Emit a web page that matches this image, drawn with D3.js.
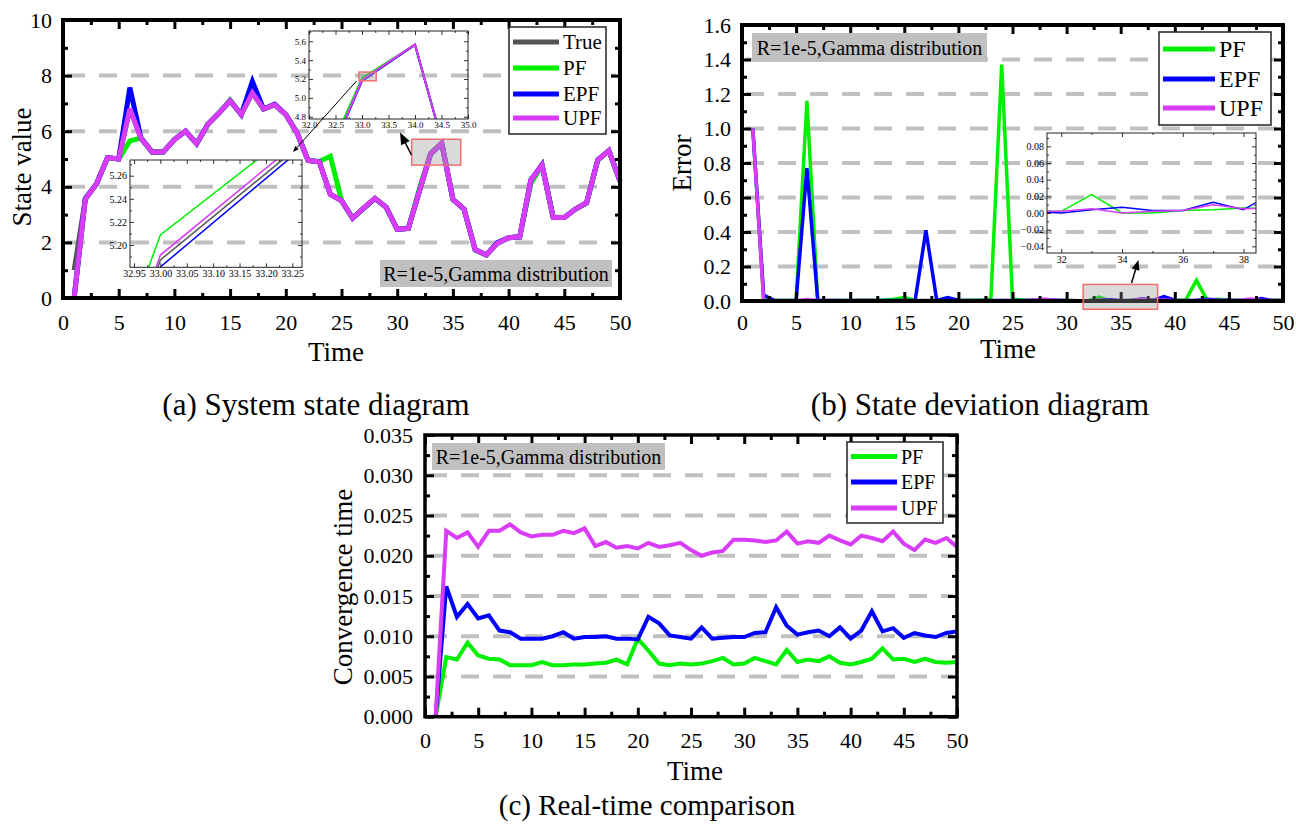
<!DOCTYPE html>
<html>
<head>
<meta charset="utf-8">
<script src="https://cdn.jsdelivr.net/npm/d3@7"></script>
<style>
  body { margin: 0; background: #fff; }
  svg text { font-family: "Liberation Serif", "Times New Roman", serif; fill: #000; }
</style>
</head>
<body>
<svg id="chart" width="1296" height="827"></svg>
<script>
// ---- data ----
const times = d3.range(1, 51);

// (a) state values
const trueState = [1.0, 3.55, 4.1, 5.05, 5.0, 6.8, 5.75, 5.25, 5.25, 5.7, 6.0, 5.55, 6.25, 6.65, 7.1, 6.6, 7.38, 6.8, 6.95, 6.6, 5.95, 4.95, 4.9, 3.73, 3.5, 2.87, 3.23, 3.58, 3.27, 2.47, 2.5, 3.86, 5.187, 5.562, 3.55, 3.2, 1.73, 1.55, 1.97, 2.17, 2.2, 4.24, 4.78, 2.9, 2.9, 3.2, 3.42, 4.96, 5.3, 4.2];
const pfState = [0, 3.56, 4.1, 5.05, 5.0, 5.65, 5.75, 5.25, 5.25, 5.7, 6.0, 5.55, 6.25, 6.65, 7.12, 6.6, 7.38, 6.8, 6.95, 6.6, 5.95, 4.95, 4.91, 5.1, 3.51, 2.87, 3.23, 3.58, 3.27, 2.47, 2.5, 3.95, 5.2087, 5.564, 3.55, 3.2, 1.73, 1.55, 1.97, 2.17, 2.2, 4.12, 4.78, 2.91, 2.9, 3.2, 3.42, 4.96, 5.3, 4.2];
const epfState = [0, 3.58, 4.1, 5.05, 5.0, 7.57, 5.75, 5.25, 5.25, 5.7, 6.0, 5.55, 6.25, 6.65, 7.1, 6.6, 7.79, 6.8, 6.97, 6.6, 5.95, 4.95, 4.9, 3.73, 3.5, 2.87, 3.23, 3.58, 3.27, 2.47, 2.5, 3.86, 5.181, 5.564, 3.55, 3.2, 1.74, 1.55, 1.99, 2.17, 2.2, 4.24, 4.79, 2.9, 2.9, 3.2, 3.42, 4.97, 5.3, 4.2];
const upfState = [0, 3.55, 4.1, 5.05, 5.0, 6.81, 5.75, 5.25, 5.25, 5.7, 6.0, 5.55, 6.25, 6.65, 7.1, 6.6, 7.38, 6.8, 6.95, 6.6, 5.95, 4.95, 4.9, 3.73, 3.5, 2.87, 3.24, 3.59, 3.27, 2.47, 2.5, 3.86, 5.1913, 5.567, 3.55, 3.2, 1.74, 1.55, 1.97, 2.17, 2.2, 4.24, 4.78, 2.9, 2.9, 3.2, 3.43, 4.96, 5.3, 4.2];

// (b) state deviation
const pfErr = [1.0, 0.01, 0.003, 0.003, 0.003, 1.16, 0.003, 0.003, 0.003, 0.003, 0.005, 0.004, 0.004, 0.01, 0.02, 0.004, 0.003, 0.003, 0.003, 0.003, 0.004, 0.005, 0.01, 1.37, 0.01, 0.006, 0.004, 0.005, 0.003, 0.003, 0.002, 0.002, 0.022, 0.0, 0.0, 0.003, 0.004, 0.006, 0.005, 0.004, 0.004, 0.12, 0.004, 0.01, 0.006, 0.005, 0.004, 0.005, 0.004, 0.004];
const epfErr = [1.0, 0.035, 0.003, 0.003, 0.003, 0.77, 0.003, 0.003, 0.003, 0.003, 0.003, 0.003, 0.003, 0.003, 0.003, 0.003, 0.41, 0.003, 0.02, 0.005, 0.003, 0.003, 0.003, 0.003, 0.003, 0.003, 0.005, 0.008, 0.005, 0.003, 0.002, 0.0, 0.004, 0.007, 0.003, 0.003, 0.013, 0.004, 0.025, 0.005, 0.003, 0.005, 0.01, 0.006, 0.004, 0.003, 0.001, 0.015, 0.003, 0.003];
const upfErr = [1.0, 0.003, 0.002, 0.002, 0.002, 0.008, 0.003, 0.003, 0.002, 0.002, 0.003, 0.003, 0.002, 0.002, 0.003, 0.002, 0.003, 0.002, 0.002, 0.003, 0.002, 0.002, 0.002, 0.003, 0.002, 0.002, 0.006, 0.01, 0.004, 0.002, 0.002, 0.002, 0.005, 0.0, 0.002, 0.003, 0.01, 0.005, 0.006, 0.003, 0.002, 0.003, 0.004, 0.003, 0.003, 0.004, 0.012, 0.003, 0.003, 0.003];

// (c) convergence time
const pfTime = [0, 0.0074, 0.0071, 0.0092, 0.0076, 0.0072, 0.0071, 0.0064, 0.0064, 0.0064, 0.0068, 0.0064, 0.0064, 0.0065, 0.0065, 0.0066, 0.0067, 0.0071, 0.0065, 0.0097, 0.0082, 0.0066, 0.0064, 0.0066, 0.0065, 0.0066, 0.0069, 0.0073, 0.0065, 0.0066, 0.0073, 0.0069, 0.0065, 0.0083, 0.0068, 0.0071, 0.0069, 0.0075, 0.0067, 0.0065, 0.0068, 0.0072, 0.0085, 0.0071, 0.0072, 0.0068, 0.0072, 0.0068, 0.0067, 0.0068];
const epfTime = [0, 0.0162, 0.0124, 0.014, 0.0122, 0.0126, 0.0107, 0.0105, 0.0097, 0.0097, 0.0097, 0.01, 0.0105, 0.0097, 0.0099, 0.0099, 0.01, 0.0097, 0.0097, 0.0096, 0.0124, 0.0116, 0.0101, 0.0099, 0.0097, 0.0111, 0.0097, 0.0098, 0.0099, 0.0099, 0.0104, 0.0105, 0.0136, 0.0113, 0.0102, 0.0105, 0.0107, 0.01, 0.0111, 0.0097, 0.0107, 0.0131, 0.0106, 0.011, 0.0098, 0.0104, 0.0101, 0.0099, 0.0104, 0.0106];
const upfTime = [0, 0.0231, 0.0222, 0.0229, 0.0211, 0.0231, 0.0231, 0.0239, 0.0229, 0.0224, 0.0226, 0.0226, 0.0231, 0.0228, 0.0234, 0.0212, 0.0217, 0.021, 0.0212, 0.0209, 0.0216, 0.0211, 0.0213, 0.0216, 0.0207, 0.02, 0.0204, 0.0206, 0.022, 0.022, 0.0219, 0.0217, 0.0219, 0.023, 0.0215, 0.0218, 0.0216, 0.0225, 0.0219, 0.0214, 0.0225, 0.0222, 0.0218, 0.023, 0.0215, 0.0207, 0.022, 0.0216, 0.0222, 0.0211];

const xTicks = [0, 5, 10, 15, 20, 25, 30, 35, 40, 45, 50];
const noteText = "R=1e-5,Gamma distribution";

const C = { True: "#555555", PF: "#00f000", EPF: "#0000ff", UPF: "#d93cf7" };
const FONT = '"Liberation Serif", "Times New Roman", serif';

var svg = d3.select("#chart");

// inward ticks on all four sides
function frameAxes(g, x, y, o) {
    const [x0, x1] = x.range(), [y1, y0] = y.range();
    const add = (axis, tx, ty) => {
        const a = g.append("g").attr("transform", `translate(${tx},${ty})`).call(axis);
        a.select(".domain").remove();
        a.selectAll("line").attr("stroke", o.tickColor || "#000").attr("stroke-width", o.tickW);
        a.selectAll("text").style("font-family", FONT).style("font-size", o.font + "px")
            .attr("fill", o.labelColor || "#000");
        return a;
    };
    const mk = (f, sc, vals, size, fmt, pad) => f(sc).tickValues(vals).tickSize(-size).tickPadding(pad || 0).tickFormat(fmt || (() => ""));
    // minor first
    add(mk(d3.axisBottom, x, o.xMinor, o.minor), 0, y1);
    add(mk(d3.axisTop, x, o.xMinor, o.minor), 0, y0);
    add(mk(d3.axisLeft, y, o.yMinor, o.minor), x0, 0);
    add(mk(d3.axisRight, y, o.yMinor, o.minor), x1, 0);
    add(mk(d3.axisBottom, x, o.xMajor, o.major, o.xFmt, o.xPad), 0, y1);
    add(mk(d3.axisTop, x, o.xMajor, o.major), 0, y0);
    add(mk(d3.axisLeft, y, o.yMajor, o.major, o.yFmt, o.yPad), x0, 0);
    add(mk(d3.axisRight, y, o.yMajor, o.major), x1, 0);
    g.append("rect").attr("x", x0).attr("y", y0).attr("width", x1 - x0).attr("height", y1 - y0)
        .attr("fill", "none").attr("stroke", o.frameColor || "#000").attr("stroke-width", o.frameW);
}

function gridLines(g, x, y, vals) {
    g.selectAll(null).data(vals).enter().append("line")
        .attr("x1", x.range()[0] + 4).attr("x2", x.range()[1] - 4)
        .attr("y1", d => y(d)).attr("y2", d => y(d))
        .attr("stroke", "#c0c0c0").attr("stroke-width", 4).attr("stroke-dasharray", "18,14");
}

function drawSeries(g, x, y, series, width, clipId) {
    const line = d3.line().x((d, i) => x(times[i])).y(d => y(d));
    const lg = g.append("g");
    if (clipId) lg.attr("clip-path", `url(#${clipId})`);
    for (const s of series) {
        lg.append("path").datum(s.values).attr("d", line)
            .attr("fill", "none").attr("stroke", C[s.name]).attr("stroke-width", width)
            .attr("stroke-linejoin", "miter").attr("stroke-miterlimit", 3);
    }
}

function legend(g, x, y, w, h, names, rowY, font, lineLen) {
    g.append("rect").attr("x", x).attr("y", y).attr("width", w).attr("height", h)
        .attr("fill", "#fff").attr("stroke", "#222").attr("stroke-width", 1.5);
    names.forEach((n, i) => {
        g.append("line").attr("x1", x + 4).attr("x2", x + 4 + lineLen)
            .attr("y1", y + rowY[i]).attr("y2", y + rowY[i])
            .attr("stroke", C[n]).attr("stroke-width", 5);
        g.append("text").attr("x", x + 8 + lineLen).attr("y", y + rowY[i])
            .attr("dy", "0.35em").style("font-size", font + "px").text(n);
    });
}

function noteBox(g, x, y, w, h) {
    g.append("rect").attr("x", x).attr("y", y).attr("width", w).attr("height", h).attr("fill", "#c0c0c0");
    g.append("text").attr("x", x + w / 2).attr("y", y + h / 2).attr("dy", "0.35em")
        .attr("text-anchor", "middle").style("font-size", "20px").text(noteText);
}

function zoomRect(g, x, y, xd, yd) {
    g.append("rect").attr("x", x(xd[0])).attr("y", y(yd[1]))
        .attr("width", x(xd[1]) - x(xd[0])).attr("height", y(yd[0]) - y(yd[1]))
        .attr("fill", "rgba(150,150,150,0.35)").attr("stroke", "#f07070").attr("stroke-width", 1.5);
}

function arrow(g, x1, y1, x2, y2, head, w) {
    const a = Math.atan2(y2 - y1, x2 - x1);
    g.append("line").attr("x1", x1).attr("y1", y1)
        .attr("x2", x2 - Math.cos(a) * head * 0.8).attr("y2", y2 - Math.sin(a) * head * 0.8)
        .attr("stroke", "#000").attr("stroke-width", w);
    const p = [[x2, y2],
        [x2 - head * Math.cos(a) + head * 0.4 * Math.sin(a), y2 - head * Math.sin(a) - head * 0.4 * Math.cos(a)],
        [x2 - head * Math.cos(a) - head * 0.4 * Math.sin(a), y2 - head * Math.sin(a) + head * 0.4 * Math.cos(a)]];
    g.append("path").attr("d", "M" + p.join("L") + "Z").attr("fill", "#000");
}

function inset(g, id, box, xd, yd, o, series) {
    const x = d3.scaleLinear().domain(xd).range([box[0], box[1]]);
    const y = d3.scaleLinear().domain(yd).range([box[3], box[2]]);
    svg.append("clipPath").attr("id", id).append("rect")
        .attr("x", box[0]).attr("y", box[2]).attr("width", box[1] - box[0]).attr("height", box[3] - box[2]);
    drawSeries(g, x, y, series, o.lineW, id);
    frameAxes(g, x, y, Object.assign({ minor: 2, major: 4, tickW: 1, frameW: 1, frameColor: "#222",
        tickColor: "#333", labelColor: "#333", xPad: 3, yPad: 3 }, o));
    return { x, y };
}

function title(g, txt, x, y, rot, size) {
    g.append("text").attr("transform", `translate(${x},${y})` + (rot ? " rotate(-90)" : ""))
        .attr("text-anchor", "middle").style("font-size", (size || 27) + "px").text(txt);
}

// ---------------- (a) ----------------
{
    const g = svg.append("g");
    const x = d3.scaleLinear().domain([0, 50]).range([63, 620]);
    const y = d3.scaleLinear().domain([0, 10]).range([298, 20]);
    gridLines(g, x, y, [2, 4, 6, 8]);
    drawSeries(g, x, y, [
        { name: "True", values: trueState }, { name: "PF", values: pfState },
        { name: "EPF", values: epfState }, { name: "UPF", values: upfState }], 5);
    frameAxes(g, x, y, { xMajor: xTicks, xMinor: d3.range(2.5, 50, 5), yMajor: d3.range(0, 11, 2),
        yMinor: d3.range(1, 10, 2), major: 9, minor: 5, tickW: 3, frameW: 4, font: 22, xPad: 16, yPad: 11,
        xFmt: d3.format("d"), yFmt: d3.format("d") });
    legend(g, 509, 27, 97, 107, ["True", "PF", "EPF", "UPF"], [15, 41, 67, 91], 21, 46);
    noteBox(g, 380, 260, 232, 27);
    zoomRect(g, x, y, [31.3, 35.7], [4.78, 5.71]);
    arrow(g, 411.5, 155, 400, 132.5, 12, 1.5);

    const small = [
        { name: "True", values: trueState }, { name: "PF", values: pfState },
        { name: "EPF", values: epfState }, { name: "UPF", values: upfState }];
    const top = inset(g, "clipA1", [309, 468, 31, 119], [32, 35], [4.776, 5.709],
        { xMajor: d3.range(32, 35.01, 0.5), xMinor: d3.range(32.25, 35, 0.5), yMajor: [4.8, 5.0, 5.2, 5.4, 5.6],
          yMinor: [4.9, 5.1, 5.3, 5.5, 5.7], font: 9, lineW: 2, xFmt: d3.format(".1f"), yFmt: d3.format(".1f") }, small);
    zoomRect(g, top.x, top.y, [32.942, 33.268], [5.1807, 5.2736]);
    arrow(g, 356.5, 81, 293, 152, 6, 1);
    inset(g, "clipA2", [130, 302, 160, 267.3], [32.9424, 33.2684], [5.1807, 5.2736],
        { xMajor: d3.range(32.95, 33.26, 0.05), xMinor: d3.range(32.975, 33.26, 0.05), yMajor: [5.20, 5.22, 5.24, 5.26],
          yMinor: [5.19, 5.21, 5.23, 5.25, 5.27], font: 10, lineW: 1.5, xFmt: d3.format(".2f"), yFmt: d3.format(".2f") }, small);

    title(g, "Time", 336, 361);
    title(g, "State value", 31, 167, true);
    title(g, "(a) System state diagram", 316, 415, false, 31);
}

// ---------------- (b) ----------------
{
    const g = svg.append("g");
    const x = d3.scaleLinear().domain([0, 50]).range([742, 1283]);
    const y = d3.scaleLinear().domain([0, 1.6]).range([301, 25]);
    gridLines(g, x, y, [0.2, 0.4, 0.6, 0.8, 1.0, 1.2, 1.4]);
    const errs = [{ name: "PF", values: pfErr }, { name: "EPF", values: epfErr }, { name: "UPF", values: upfErr }];
    drawSeries(g, x, y, errs, 3.5);
    frameAxes(g, x, y, { xMajor: xTicks, xMinor: d3.range(2.5, 50, 5), yMajor: d3.range(0, 1.61, 0.2),
        yMinor: d3.range(0.1, 1.6, 0.2), major: 9, minor: 5, tickW: 3, frameW: 4, font: 22, xPad: 13, yPad: 11,
        xFmt: d3.format("d"), yFmt: d3.format(".1f") });
    legend(g, 1159, 32, 112, 93, ["PF", "EPF", "UPF"], [17, 47, 76], 24, 52);
    noteBox(g, 752, 33, 235, 29);
    zoomRect(g, x, y, [31.53, 38.41], [-0.048, 0.096]);
    arrow(g, 1131.5, 283, 1138.5, 260, 10, 1.5);
    inset(g, "clipB", [1047, 1256, 133, 253], [31.53, 38.41], [-0.048, 0.096],
        { xMajor: [32, 34, 36, 38], xMinor: [33, 35, 37], yMajor: d3.range(-0.04, 0.081, 0.02),
          yMinor: d3.range(-0.03, 0.091, 0.02), font: 10, lineW: 1.5, xFmt: d3.format("d"), yFmt: d3.format(".2f") }, errs);

    title(g, "Time", 1008, 358);
    title(g, "Error", 691, 163, true);
    title(g, "(b) State deviation diagram", 980, 415, false, 31);
}

// ---------------- (c) ----------------
{
    const g = svg.append("g");
    const x = d3.scaleLinear().domain([0, 50]).range([425, 957]);
    const y = d3.scaleLinear().domain([0, 0.035]).range([716.7, 435]);
    gridLines(g, x, y, [0.005, 0.01, 0.015, 0.02, 0.025, 0.03]);
    drawSeries(g, x, y, [{ name: "PF", values: pfTime }, { name: "EPF", values: epfTime },
        { name: "UPF", values: upfTime }], 4);
    frameAxes(g, x, y, { xMajor: xTicks, xMinor: d3.range(2.5, 50, 5), yMajor: d3.range(0, 0.0351, 0.005),
        yMinor: d3.range(0.0025, 0.035, 0.005), major: 9, minor: 5, tickW: 3, frameW: 3.5, font: 22, xPad: 16, yPad: 12,
        xFmt: d3.format("d"), yFmt: d3.format(".3f") });
    legend(g, 847, 442, 96, 81, ["PF", "EPF", "UPF"], [14.5, 40, 66], 20, 46);
    noteBox(g, 432, 443, 233, 27);

    title(g, "Time", 695, 780);
    title(g, "Convergence time", 352, 587, true);
    title(g, "(c) Real-time comparison", 647, 815, false, 29);
}
</script>
</body>
</html>
